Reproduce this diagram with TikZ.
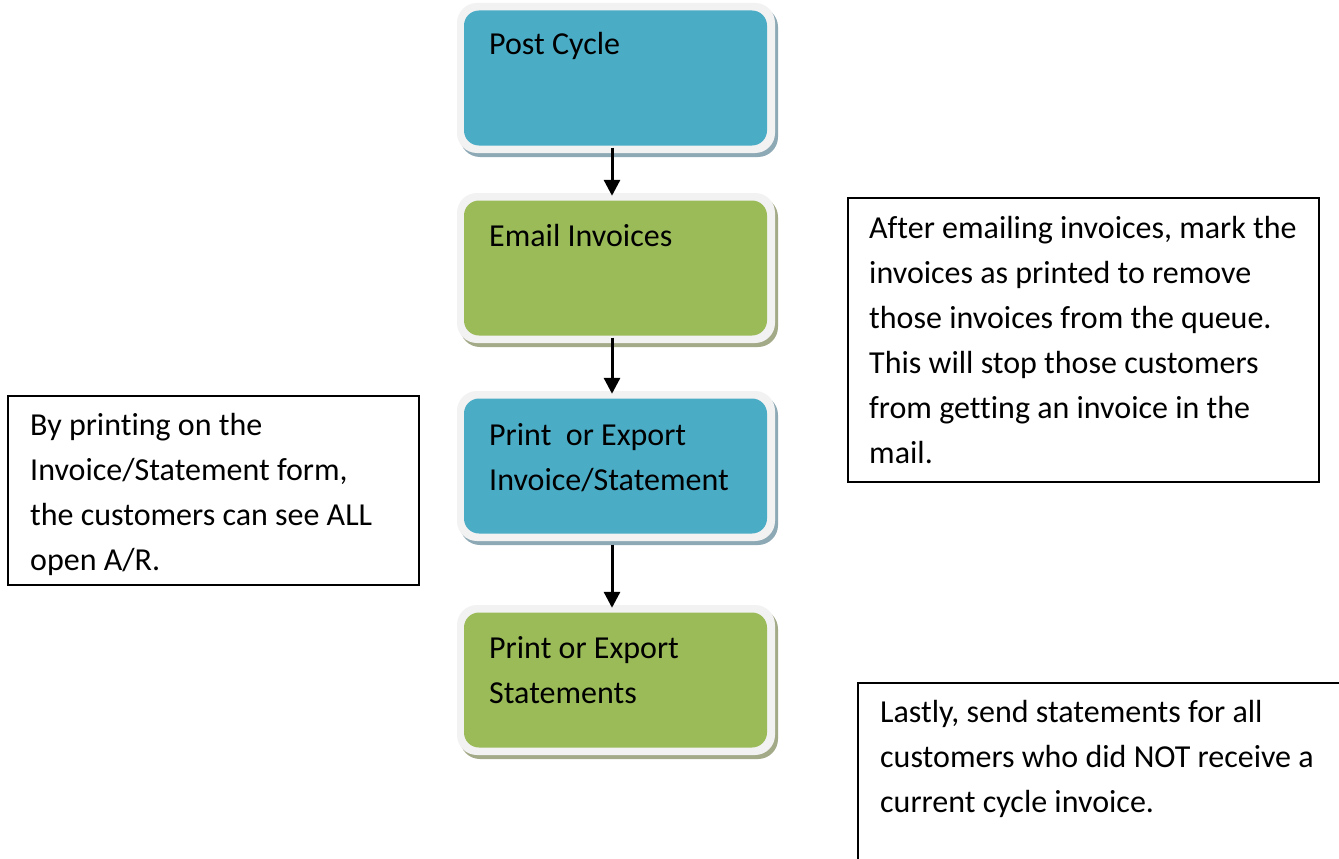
\documentclass[tikz,border=0pt]{standalone}
\usepackage{fontspec}
\setmainfont[Ligatures=NoCommon]{Carlito}
\usetikzlibrary{arrows.meta}
\definecolor{teal}{HTML}{4BACC6}
\definecolor{grn}{HTML}{9BBB59}
\definecolor{ringc}{HTML}{F2F2F2}
\definecolor{tealsh}{HTML}{8DA9B5}
\definecolor{grnsh}{HTML}{A3AA88}
\tikzset{
  ring/.style={draw=none, fill=ringc, rounded corners=20pt, minimum width=318pt, minimum height=150pt, inner sep=0pt},
  shad/.style={draw=none, fill=#1, rounded corners=20pt, minimum width=318pt, minimum height=150pt, inner sep=0pt},
  inner/.style={draw=none, fill=#1, rounded corners=15pt, minimum width=303pt, minimum height=135pt, inner sep=0pt},
  lbl/.style={anchor=base west, inner sep=0pt, align=left, font=\fontsize{32pt}{45pt}\selectfont},
  note/.style={draw=black, line width=1.5pt},
  arr/.style={line width=3pt, -{Triangle[length=16pt, width=16pt]}}
}
\begin{document}
\begin{tikzpicture}[x=1pt, y=-1pt]
\clip (0,0) rectangle (1339,859);
\fill[white] (0,0) rectangle (1339,859);
% Post Cycle
\node[shad=tealsh] (s1) at (619,82) {};
\node[ring] (o1) at (616,78) {};
\node[inner=teal] (p1) at (615.5,78) {};
\node[lbl] (t1) at (489,55) {Post Cycle};
% Email Invoices
\node[shad=grnsh] (s2) at (619,272) {};
\node[ring] (o2) at (616,268) {};
\node[inner=grn] (p2) at (615.5,268) {};
\node[lbl] (t2) at (489,246) {Email Invoices};
% Print or Export Invoice/Statement
\node[shad=tealsh] (s3) at (619,470) {};
\node[ring] (o3) at (616,466) {};
\node[inner=teal] (p3) at (615.5,466) {};
\node[lbl] (t3) at (489,490) {Print\ \ or Export\\Invoice/Statement};
% Print or Export Statements
\node[shad=grnsh] (s4) at (619,684) {};
\node[ring] (o4) at (616,680) {};
\node[inner=grn] (p4) at (615.5,680) {};
\node[lbl] (t4) at (489,703) {Print or Export\\Statements};
% arrows
\draw[arr, shorten <=2pt, shorten >=-3pt] (p1.south -| 612,0) -- (o2.north -| 612,0);
\draw[arr, shorten <=2pt, shorten >=-3pt] (p2.south -| 612,0) -- (o3.north -| 612,0);
\draw[arr, shorten <=11pt, shorten >=-3pt] (p3.south -| 612,0) -- (o4.north -| 612,0);
% notes
\node[note, anchor=north west, minimum width=471pt, minimum height=284pt, inner sep=0pt] (n1) at (847,197) {};
\node[lbl] (n1t) at (869,463) {After emailing invoices, mark the\\invoices as printed to remove\\those invoices from the queue.\\This will stop those customers\\from getting an invoice in the\\mail.};
\node[note, anchor=north west, minimum width=411pt, minimum height=189pt, inner sep=0pt] (n2) at (7,395) {};
\node[lbl] (n2t) at (30,570) {By printing on the\\Invoice/Statement form,\\the customers can see ALL\\open A/R.};
\node[note, anchor=north west, minimum width=500pt, minimum height=200pt, inner sep=0pt] (n3) at (857,682) {};
\node[lbl] (n3t) at (880,812) {Lastly, send statements for all\\customers who did NOT receive a\\current cycle invoice.};
\end{tikzpicture}
\end{document}
